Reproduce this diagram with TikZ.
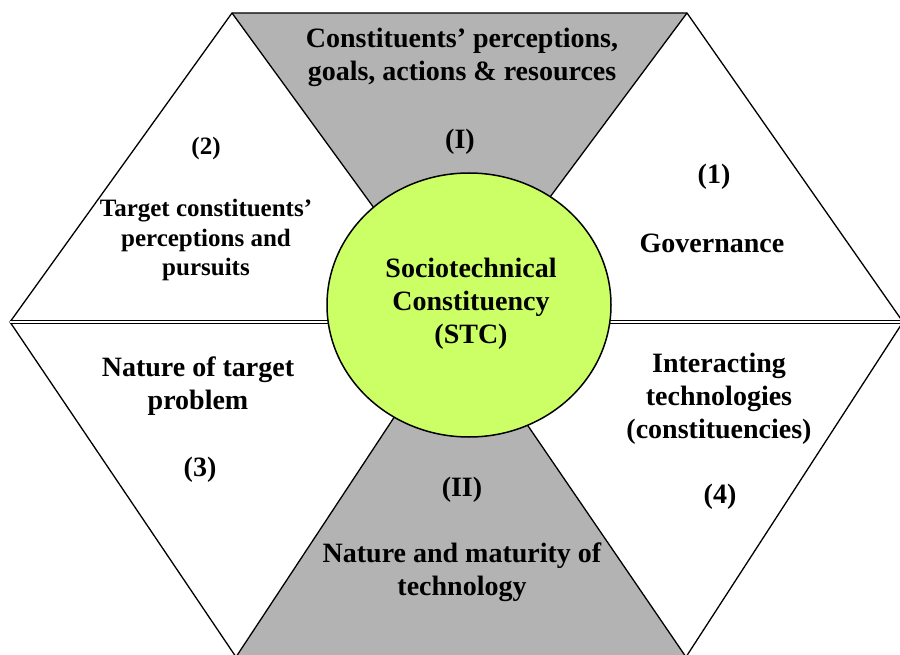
\documentclass[tikz,border=0pt]{standalone}
\usepackage{fontspec}
\setmainfont{Liberation Serif}
\usetikzlibrary{calc}
\definecolor{sectorgray}{RGB}{179,179,179}
\definecolor{stcgreen}{RGB}{204,255,102}

\tikzset{
	label/.style={font=\bfseries\fontsize{28}{33}\selectfont, align=center, inner sep=0pt},
	smalllabel/.style={font=\bfseries\fontsize{25}{29.5}\selectfont, align=center, inner sep=0pt},
	edge/.style={black, line width=1.3pt, line join=round}
}

\begin{document}
\begin{tikzpicture}[x=1pt, y=-1pt]
	\useasboundingbox (0,0) rectangle (900,655);
	\clip (0,0) rectangle (900,655);
	% Corners
	\coordinate (TL) at (232,13);
	\coordinate (TR) at (687,13);
	\coordinate (R) at (903,322);
	\coordinate (BR) at (686,657);
	\coordinate (BL) at (236,657);
	\coordinate (L) at (10,322);
	\coordinate (O) at (457,322);
	% Sectors
	\fill[sectorgray] (TL) -- (TR) -- (O) -- cycle;
	\fill[sectorgray] (BL) -- (BR) -- (O) -- cycle;
	% Lines
	\draw[edge] (TL) -- (TR) -- (R) -- (BR) -- (BL) -- (L) -- cycle;
	\draw[edge] (TL) -- (O) -- (BR);
	\draw[edge] (TR) -- (O) -- (BL);
	\draw[black, line width=1pt, double=white, double distance=2.6pt] (L) -- (R);
	% Centre
	\draw[fill=stcgreen, line width=1.5pt] (469,305) ellipse [x radius=142, y radius=132];
	\node[label] (stc) at (471,304) {Sociotechnical\\Constituency\\(STC)};
	% Labels
	\node[label] (goals) at (462,57) {Constituents' perceptions,\\goals, actions \& resources};
	\node[label] (romanI) at (460,142) {(I)};
	\node[smalllabel] (num2) at (206,148) {(2)};
	\node[smalllabel] (target) at (206,240) {Target constituents'\\perceptions and\\pursuits};
	\node[label] (num1) at (714,177) {(1)};
	\node[label] (governance) at (712,243) {Governance};
	\node[label] (problem) at (198,386) {Nature of target\\problem};
	\node[label] (num3) at (200,470) {(3)};
	\node[label] (interact) at (719,399) {Interacting\\technologies\\(constituencies)};
	\node[label] (num4) at (720,497) {(4)};
	\node[label] (romanII) at (462,490) {(II)};
	\node[label] (maturity) at (462,572) {Nature and maturity of\\technology};
\end{tikzpicture}
\end{document}
